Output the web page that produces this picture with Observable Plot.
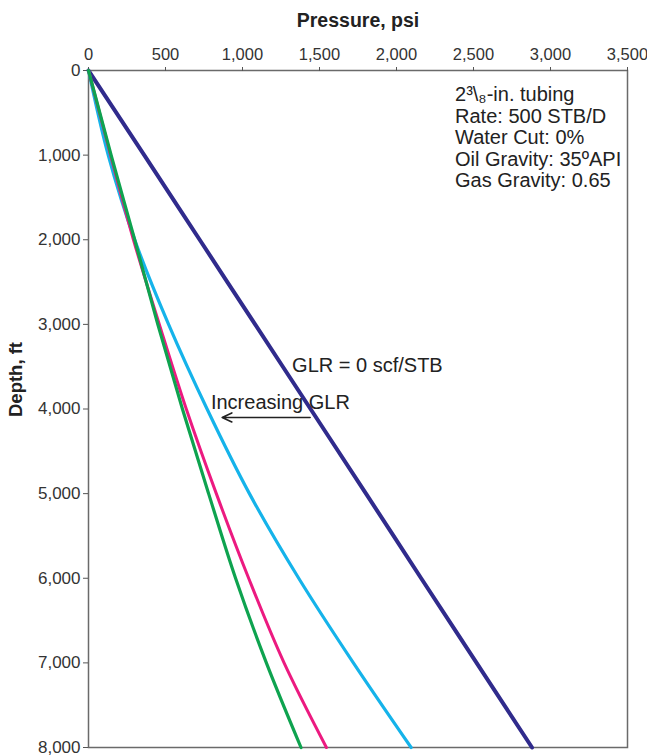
<!DOCTYPE html>
<html>
<head>
<meta charset="utf-8">
<script src="https://cdn.jsdelivr.net/npm/d3@7"></script>
<script src="https://cdn.jsdelivr.net/npm/@observablehq/plot@0.6"></script>
<style>
  html, body { margin: 0; padding: 0; background: #ffffff; }
  #chart { width: 647px; height: 756px; }
</style>
</head>
<body>
<div id="chart"></div>
<script>
// ---- data (depth in ft, pressure in psi) ----
const depthFt = [0, 1000, 2000, 3000, 4000, 5000, 6000, 7000, 8000];
const glrZeroP = [0, 362, 722, 1082, 1442, 1802, 2160, 2520, 2880];   // dark blue, GLR = 0
const glrLowP  = [0, 128, 300, 520, 770, 1045, 1365, 1720, 2095];    // light blue
const glrMidP  = [0, 143, 292, 460, 635, 830, 1040, 1270, 1545];     // magenta
const glrHighP = [0, 147, 300, 450, 610, 780, 955, 1155, 1380];      // green

const xTicks = [0, 500, 1000, 1500, 2000, 2500, 3000, 3500];
const yTicks = [0, 1000, 2000, 3000, 4000, 5000, 6000, 7000, 8000];

const noteLines = ["2³\\₈-in. tubing", "Rate: 500 STB/D", "Water Cut: 0%", "Oil Gravity: 35ºAPI", "Gas Gravity: 0.65"];
const noteAt = {x: 2380, y: 790};
const glrLabel = {text: "GLR = 0 scf/STB", x: 1322, y: 3487};
const incLabel = {text: "Increasing GLR", x: 795, y: 3923};
const arrowAt = {x1: 1439, x2: 868, y: 4100};

const series = [
  {name: "GLR 0", p: glrZeroP, color: "#302b8c", width: 4},
  {name: "GLR low", p: glrLowP, color: "#15b3ea", width: 3.2},
  {name: "GLR mid", p: glrMidP, color: "#ec1a80", width: 3},
  {name: "GLR high", p: glrHighP, color: "#0ea34f", width: 3.2}
];
const rows = s => depthFt.map((d, i) => ({depth: d, pressure: s.p[i]}));

const font = "'Liberation Sans', Arial, Helvetica, sans-serif";

const chart = Plot.plot({
  width: 647,
  height: 756,
  marginLeft: 88,
  marginRight: 20,
  marginTop: 70,
  marginBottom: 9,
  style: {fontFamily: font, background: "#ffffff", color: "#333"},
  x: {domain: [0, 3500]},
  y: {domain: [0, 8000], reverse: true},
  marks: [
    Plot.frame({stroke: "#6a6a6a", strokeWidth: 1.5}),
    Plot.axisX({anchor: "top", ticks: xTicks, tickFormat: d3.format(","), tickSize: 4, tickPadding: 7, fontSize: 16.5, label: null, stroke: "#555"}),
    Plot.axisY({anchor: "left", ticks: yTicks, tickFormat: d3.format(","), tickSize: 5, tickPadding: 3, fontSize: 17, label: null, stroke: "#555"}),
    Plot.text(["Pressure, psi"], {frameAnchor: "top", dy: -57, fontSize: 19.5, fontWeight: "bold", fill: "#222"}),
    Plot.text(["Depth, ft"], {frameAnchor: "left", dx: -72, dy: 8, rotate: -90, fontSize: 18.5, fontWeight: "bold", fill: "#222"}),
    ...series.map(s => Plot.line(rows(s), {x: "pressure", y: "depth", stroke: s.color, strokeWidth: s.width, curve: "monotone-y"})),
    Plot.text([noteLines.join("\n")], {x: () => noteAt.x, y: () => noteAt.y, textAnchor: "start", lineAnchor: "middle", lineHeight: 1.08, fontSize: 20, fill: "#222"}),
    Plot.text([glrLabel], {x: "x", y: "y", text: "text", textAnchor: "start", fontSize: 20, fill: "#222"}),
    Plot.text([incLabel], {x: "x", y: "y", text: "text", textAnchor: "start", fontSize: 20, fill: "#222"}),
    Plot.arrow([arrowAt], {x1: "x1", x2: "x2", y1: "y", y2: "y", stroke: "#222", strokeWidth: 1.6, headLength: 10, headAngle: 50})
  ]
});
document.getElementById("chart").appendChild(chart);
</script>
</body>
</html>
